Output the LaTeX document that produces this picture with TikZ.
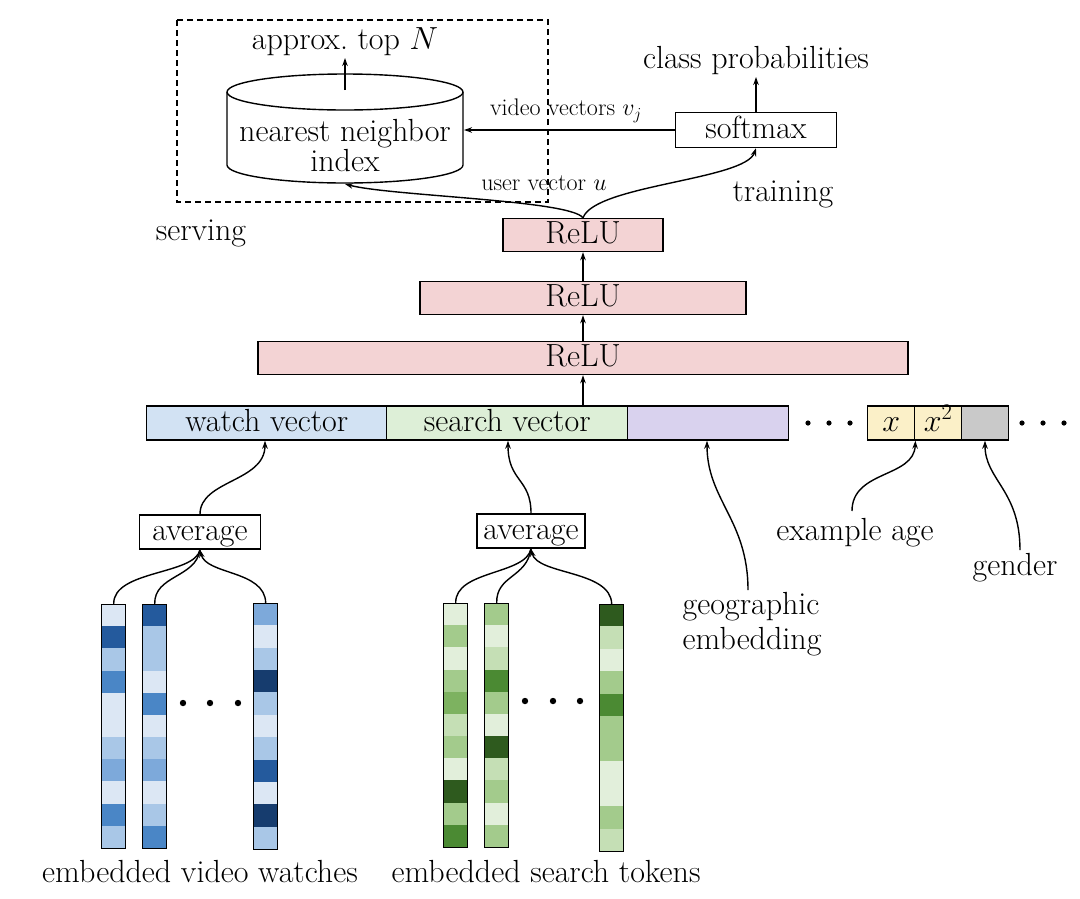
\RequirePackage{fix-cm}
\documentclass[tikz,border=0pt]{standalone}
\usetikzlibrary{arrows.meta}
\definecolor{reluc}{HTML}{F3D3D4}
\definecolor{watchc}{HTML}{D2E2F3}
\definecolor{searchc}{HTML}{DDEFD7}
\definecolor{geoc}{HTML}{D9D2EE}
\definecolor{agec}{HTML}{FBF0C8}
\definecolor{genc}{HTML}{C9C9C9}
\definecolor{bA}{HTML}{DCE7F4}
\definecolor{bB}{HTML}{A9C7E7}
\definecolor{bC}{HTML}{7DA9DA}
\definecolor{bD}{HTML}{4A86C6}
\definecolor{bE}{HTML}{245A9D}
\definecolor{bF}{HTML}{163C6E}
\definecolor{gA}{HTML}{E2EFDB}
\definecolor{gB}{HTML}{C5DFB5}
\definecolor{gC}{HTML}{A3CB8C}
\definecolor{gD}{HTML}{7DB260}
\definecolor{gE}{HTML}{4B8A33}
\definecolor{gF}{HTML}{2E5A1E}
\newcommand\mainfs{\fontsize{32}{38}\selectfont}
\newcommand\smallfs{\fontsize{24}{29}\selectfont}
\newcommand\embcol[5]{%
  \foreach \cc [count=\ii from 0] in {#5}
    \fill[\cc] (#2,{#3+\ii*#4/11}) rectangle ({#2+24},{#3+(\ii+1)*#4/11});
  \node[colbox, minimum height=#4, anchor=north west] (#1) at (#2,#3) {};
}
\begin{document}
\begin{tikzpicture}[x=1pt,y=-1pt,
  line width=1.4pt,
  arr/.style={-{Stealth[length=8pt,width=5.5pt]}},
  box/.style={draw, inner sep=0pt, font=\mainfs, text height=22pt, text depth=6pt},
  relu/.style={box, fill=reluc, minimum height=33pt},
  feat/.style={box, minimum height=34pt},
  colbox/.style={draw, inner sep=0pt, minimum width=24pt},
  lbl/.style={font=\mainfs, inner sep=0pt},
  slbl/.style={font=\smallfs, inner sep=0pt}]
\useasboundingbox (0,0) rectangle (1080,898);
\fill[white] (0,0) rectangle (1080,898);

% serving area
\draw[dashed, line width=1.2pt, dash pattern=on 6pt off 4pt] (177,20) rectangle (548,202);
\node[lbl] (topn) at (345,42) {approx.\ top $N$};
% cylinder
\draw[fill=white] (227,92) -- (227,165) arc[start angle=180, end angle=0, x radius=118, y radius=18]
  -- (463,92);
\draw (345,92) ellipse[x radius=118, y radius=18];
\node[lbl, align=center] (nn) at (345,146) {nearest neighbor\\[-8pt]index};
\coordinate (nntop) at (345,90);
\coordinate (nnbot) at (345,184);
\coordinate (nnright) at (464,130);
\draw[arr] (nntop) -- (topn.south |- 0,58);
\node[lbl] (serving) at (201,233) {serving};

% training
\node[box, minimum width=161pt, minimum height=35pt] (soft) at (756,130) {softmax};
\node[lbl] (classp) at (756,61) {class probabilities};
\draw[arr] (soft.north) -- (756,77);
\node[lbl] (training) at (783,194) {training};
\draw[arr] (soft.west) -- (nnright);
\node[slbl, anchor=south] (vv) at (566,123) {video vectors $v_j$};
\node[slbl] (uv) at (544,183) {user vector $u$};

% ReLU stack
\node[relu, minimum width=160pt] (r1) at (583,235) {ReLU};
\node[relu, minimum width=326pt] (r2) at (583,298) {ReLU};
\node[relu, minimum width=650pt] (r3) at (583,358) {ReLU};
\draw[arr] (r2.north) -- (r1.south);
\draw[arr] (r3.north) -- (r2.south);
\draw[arr] (r1.north) .. controls (570,200) and (390,196) .. (nnbot);
\draw[arr] (r1.north) .. controls (595,185) and (745,180) .. (soft.south);

% feature bar
\node[feat, fill=watchc, minimum width=240pt, anchor=west] (watch) at (146,423) {watch vector};
\node[feat, fill=searchc, minimum width=241pt, anchor=west] (search) at (386,423) {search vector};
\node[feat, fill=geoc, minimum width=161pt, anchor=west] (geo) at (627,423) {};
\node[feat, fill=agec, minimum width=47pt, anchor=west] (xa) at (867,423) {$x$};
\node[feat, fill=agec, minimum width=47pt, anchor=west] (xb) at (914,423) {$x^2$};
\node[feat, fill=genc, minimum width=47pt, anchor=west] (gen) at (961,423) {};
\foreach \xx in {808,829,850,1022,1043,1064} \fill (\xx,423) circle (2.6pt);
\coordinate (bartop) at (583,406);
\draw[arr] (bartop) -- (r3.south);

% average boxes
\node[box, minimum width=121pt, minimum height=34pt] (avg1) at (200,532) {average};
\node[box, minimum width=108pt, minimum height=34pt] (avg2) at (531,531) {average};
\draw[arr] (avg1.north) .. controls (200,480) and (265,482) .. (watch.south -| 265,0);
\draw[arr] (avg2.north) .. controls (531,478) and (508,482) .. (search.south -| 508,0);

% side inputs
\node[lbl, align=left, anchor=north west] (geolbl) at (682,592) {geographic\\[-3pt]embedding};
\coordinate (geofoot) at (748,590);
\draw[arr] (geofoot) .. controls (748,520) and (707,500) .. (geo.south -| 707,0);
\node[lbl] (agelbl) at (855,533) {example age};
\coordinate (agefoot) at (852,511);
\draw[arr] (agefoot) .. controls (852,470) and (914,478) .. (xa.south east);
\node[lbl] (genlbl) at (1015,568) {gender};
\coordinate (genfoot) at (1020,550);
\draw[arr] (genfoot) .. controls (1020,490) and (985,480) .. (gen.south -| 985,0);

% embedding columns (blue)
\embcol{w1}{101}{604}{244}{bA,bE,bB,bD,bA,bA,bB,bC,bA,bD,bB}
\embcol{w2}{142}{604}{244}{bE,bB,bB,bA,bD,bA,bB,bC,bA,bB,bD}
\embcol{w3}{253}{603}{246}{bC,bA,bB,bF,bB,bA,bB,bE,bA,bF,bB}
\foreach \xx in {183,210,238} \fill (\xx,703) circle (3.2pt);
\draw (w1.north) .. controls (113,570) and (195,575) .. (avg1.south);
\draw (w2.north) .. controls (154,575) and (196,578) .. (avg1.south);
\draw[arr] (w3.north) .. controls (265,570) and (206,575) .. (avg1.south);
\node[lbl] (ewl) at (200,872) {embedded video watches};

% embedding columns (green)
\embcol{s1}{443}{603}{244}{gA,gC,gA,gC,gD,gB,gC,gA,gF,gC,gE}
\embcol{s2}{484}{603}{244}{gC,gA,gB,gE,gC,gA,gF,gB,gC,gA,gC}
\embcol{s3}{599}{604}{247}{gF,gB,gA,gC,gE,gC,gC,gA,gA,gC,gB}
\foreach \xx in {525,553,580} \fill (\xx,701) circle (3.2pt);
\draw (s1.north) .. controls (455,570) and (526,575) .. (avg2.south);
\draw (s2.north) .. controls (496,575) and (527,578) .. (avg2.south);
\draw[arr] (s3.north) .. controls (611,570) and (537,575) .. (avg2.south);
\node[lbl] (esl) at (546,872) {embedded search tokens};
\end{tikzpicture}
\end{document}
